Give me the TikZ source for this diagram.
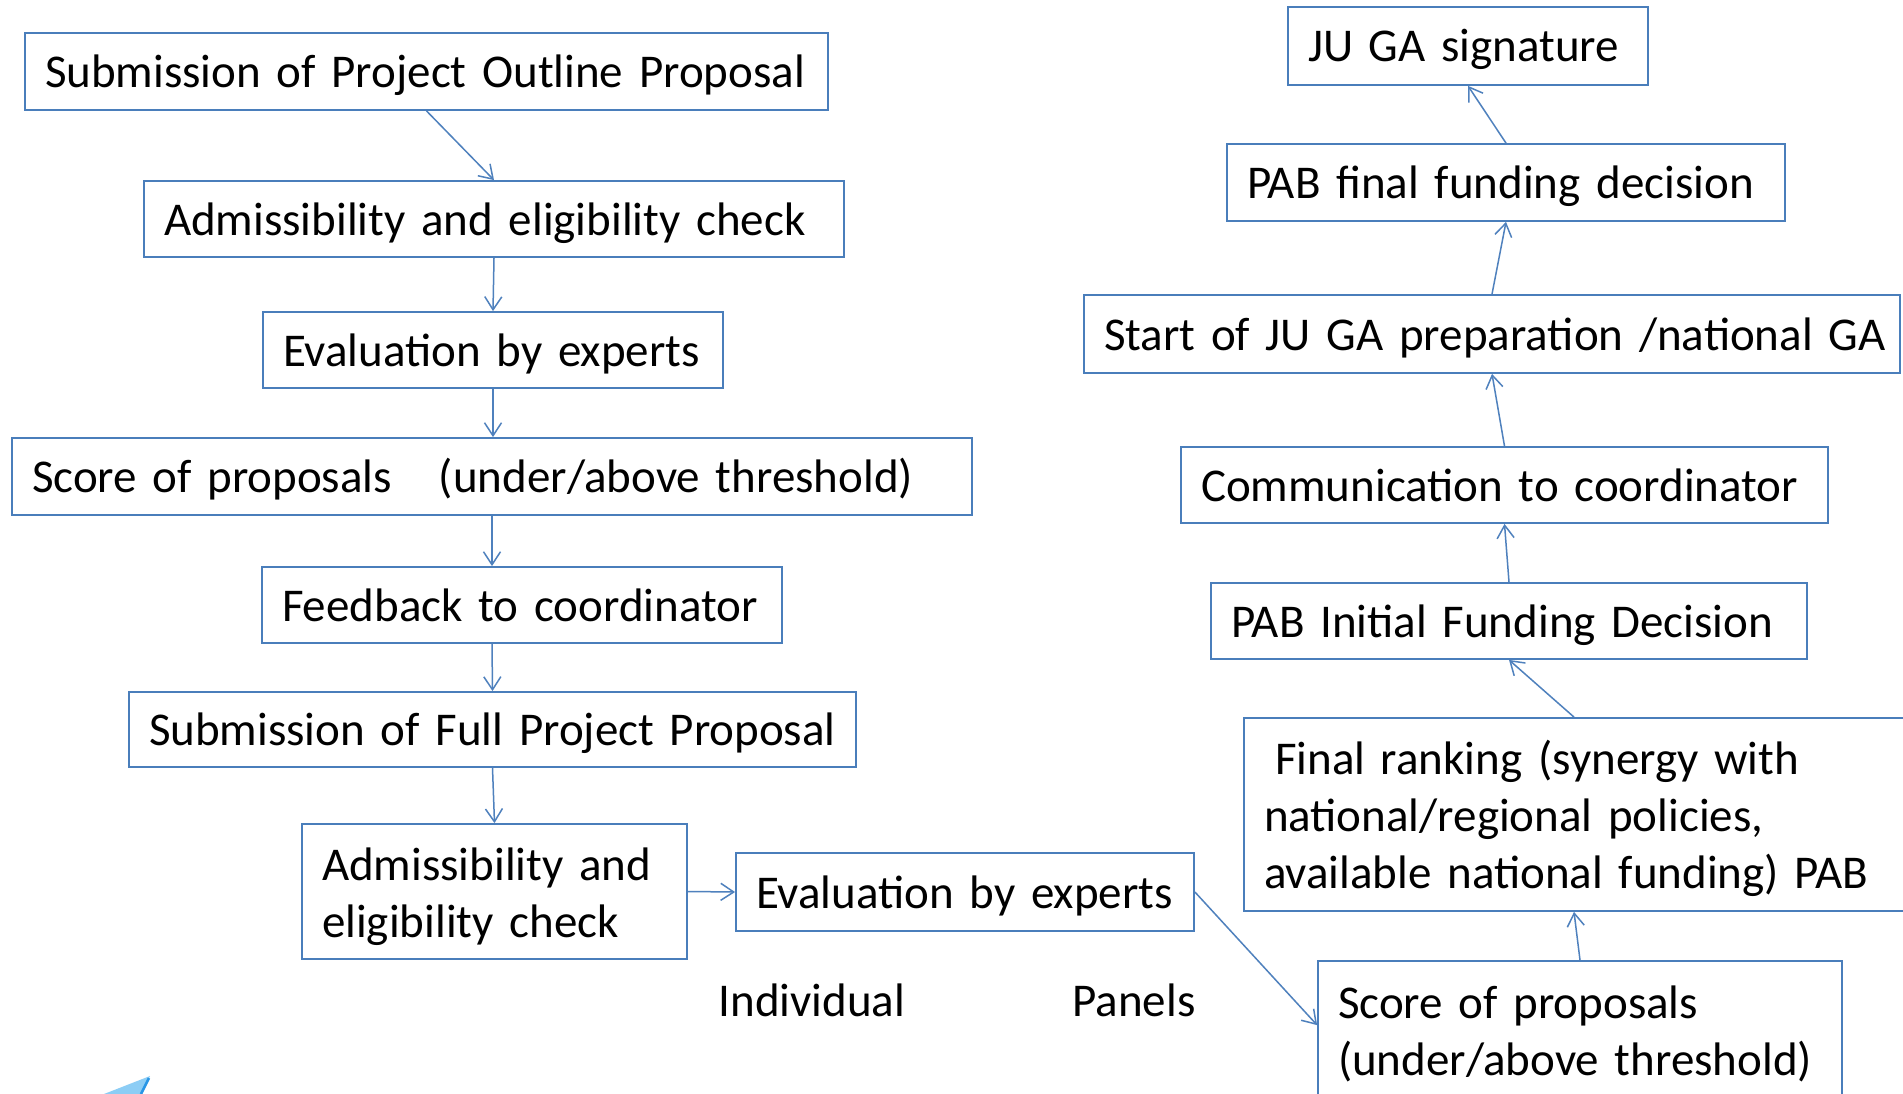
\documentclass[tikz,border=0pt]{standalone}
\usepackage{fontspec}
\setmainfont{Carlito}
\usetikzlibrary{arrows.meta}
\definecolor{boxblue}{RGB}{74,126,187}
\definecolor{arrblue}{RGB}{79,129,189}
\definecolor{planelight}{RGB}{140,205,245}
\definecolor{planedark}{RGB}{40,150,230}
\begin{document}
\begin{tikzpicture}[x=1pt,y=-1pt,
  box/.style={draw=boxblue, line width=1.8pt, fill=white, align=left,
    inner xsep=20pt, inner ysep=0pt, font=\fontsize{47}{57}\selectfont,
    execute at begin node={\rule[-11pt]{0pt}{54pt}}},
  lbl/.style={inner sep=0pt, font=\fontsize{47}{57}\selectfont},
  arr/.style={draw=arrblue, line width=1.5pt,
    -{Straight Barb[length=13pt,width=17pt,line width=1.5pt]}}]
\useasboundingbox (0,0) rectangle (1903,1094);
\clip (0,0) rectangle (1903,1094);
\fill[white] (0,0) rectangle (1903,1094);

% left column
\node[box, text width=763pt, minimum height=77pt] (A1) at (426.5,71.5) {Submission of Project Outline Proposal};
\node[box, text width=660pt, minimum height=76pt] (A2) at (494,219) {Admissibility and eligibility check};
\node[box, text width=420pt, minimum height=76pt] (A3) at (493,350) {Evaluation by experts};
\node[box, text width=920pt, minimum height=77pt] (A4) at (492,476.5) {Score of proposals~~~(under/above threshold)};
\node[box, text width=480pt, minimum height=76pt] (A5) at (522,605) {Feedback to coordinator};
\node[box, text width=687pt, minimum height=75pt] (A6) at (492.5,729.5) {Submission of Full Project Proposal};
\node[box, text width=345pt, minimum height=135pt] (A7) at (494.5,891.5) {Admissibility and\\eligibility check};
\node[box, text width=418pt, minimum height=78pt] (A8) at (965,892) {Evaluation by experts};

\node[lbl] (ind) at (812,1000) {Individual};
\node[lbl] (pan) at (1134,1000) {Panels};

% right column
\node[box, text width=484pt, minimum height=135pt] (B1) at (1580,1028.5) {Score of proposals\\(under/above threshold)};
\node[box, text width=620pt, minimum height=193pt] (B2) at (1574,814.5) {\hspace*{11pt}Final ranking (synergy with\\national/regional policies,\\available national funding) PAB};
\node[box, text width=556pt, minimum height=76pt] (B3) at (1509,621) {PAB Initial Funding Decision};
\node[box, text width=607pt, minimum height=76pt] (B4) at (1504.5,485) {Communication to coordinator};
\node[box, text width=776pt, minimum height=78pt] (B5) at (1492,334) {\mbox{Start of JU GA preparation /national GA}};
\node[box, text width=518pt, minimum height=77pt] (B6) at (1506,182.5) {PAB final funding decision};
\node[box, text width=320pt, minimum height=78pt] (B7) at (1468,46) {JU GA signature};

% connectors
\draw[arr] (A1.south) -- (A2.north);
\draw[arr] (A2.south) -- (A3.north);
\draw[arr] (A3.south) -- (A3.south |- A4.north);
\draw[arr] (A4.south) -- (A4.south |- A5.north);
\draw[arr] (A4.south |- A5.south) -- (A6.north);
\draw[arr] (A6.south) -- (A7.north);
\draw[arr] (A7.east) -- (A8.west);
\draw[arr] (A8.east) -- ([yshift=-65pt]B1.north west);
\draw[arr] (B1.north) -- (B2.south);
\draw[arr] (B2.north) -- (B3.south);
\draw[arr] (B3.north) -- (B4.south);
\draw[arr] (B4.north) -- (B5.south);
\draw[arr] (B5.north) -- (B6.south);
\draw[arr] (B6.north) -- (B7.south);

% partial light-blue shape at bottom left
\fill[planelight] (104,1094) -- (150,1076) -- (142,1094) -- cycle;
\draw[planedark, line width=2.5pt] (149,1078) -- (141,1094);
\end{tikzpicture}
\end{document}
